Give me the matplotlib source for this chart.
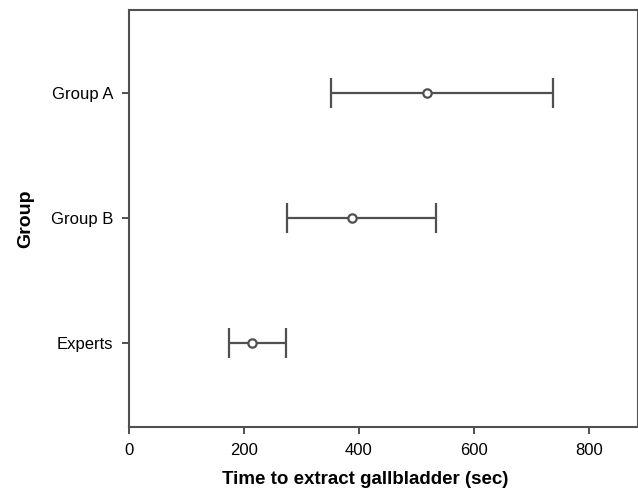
import numpy as np
import matplotlib.pyplot as plt

plt.rcParams['font.family'] = ['Liberation Sans', 'DejaVu Sans']

groups = ['Experts', 'Group B', 'Group A']
means = [214, 388, 518]
lower = [174, 275, 351]
upper = [273, 534, 737]

ink = '#505050'

fig = plt.figure(figsize=(6.38, 4.88), dpi=100)
ax = fig.add_axes([0.202, 0.124, 0.798, 0.856])

y = np.arange(len(groups))
m = np.array(means)
err = np.vstack([m - np.array(lower), np.array(upper) - m])
ax.errorbar(m, y, xerr=err, fmt='o', color=ink, ecolor=ink,
            elinewidth=1.6, capsize=11, capthick=1.6,
            markersize=6, markerfacecolor='white', markeredgewidth=1.6)

ax.set_xlim(0, 885)
ax.set_ylim(-0.67, 2.66)
ax.set_xticks([0, 200, 400, 600, 800])
ax.set_yticks(y)
ax.set_yticklabels(groups)

for s in ax.spines.values():
    s.set_color(ink)
    s.set_linewidth(1.5)
ax.tick_params(direction='out', length=5, width=1.4, color=ink,
               labelsize=12, labelcolor='black', pad=6)

ax.set_xlabel('Time to extract gallbladder (sec)', fontsize=13.5,
              fontweight='bold')
ax.xaxis.set_label_coords((365 - 129) / 509, -0.103)
ax.set_ylabel('Group', fontsize=14, fontweight='bold', labelpad=12)

fig.savefig('out.png', dpi=100)
